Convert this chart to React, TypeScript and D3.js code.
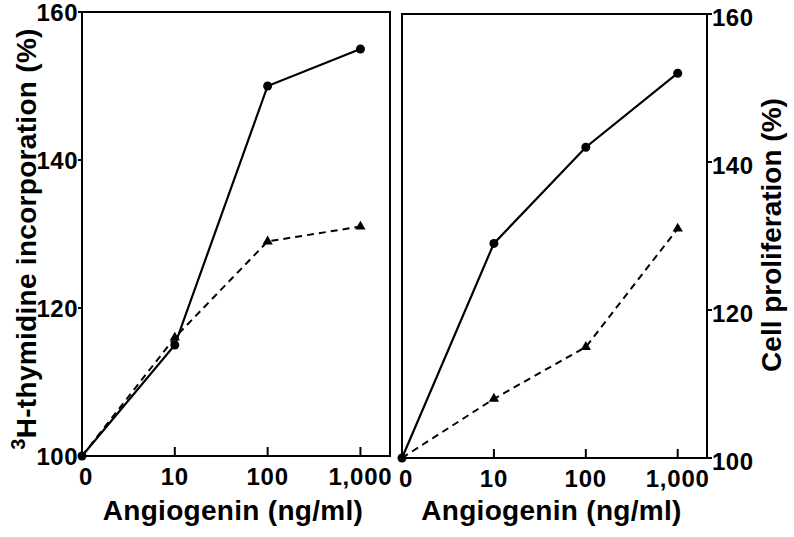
import React from "react";
import * as d3 from "d3";

const xCategories = ["0", "10", "100", "1,000"];
const yTickValues = [100, 120, 140, 160];
const leftCircles = [100, 115, 150, 155];
const leftTriangles = [100, 116, 129, 131];
const rightCircles = [100, 129, 142, 152];
const rightTriangles = [100, 108, 115, 131];

const FONT = "'Liberation Sans', Arial, Helvetica, sans-serif";

type PanelProps = {
  x0: number;
  x1: number;
  y0: number;
  y1: number;
  side: "left" | "right";
  circles: number[];
  triangles: number[];
};

function Panel({ x0, x1, y0, y1, side, circles, triangles }: PanelProps) {
  const x = d3.scaleLinear().domain([0, 3]).range([x0, x0 + (x1 - x0) * 0.904]);
  const y = d3.scaleLinear().domain([100, 160]).range([y1, y0]);
  const line = d3
    .line<number>()
    .x((_, i) => x(i))
    .y((d) => y(d));
  const tri = d3.symbol().type(d3.symbolTriangle).size(46)();
  const tickLabelDy = side === "left" ? 9 : 12;
  return (
    <g>
      <rect x={x0} y={y0} width={x1 - x0} height={y1 - y0} fill="none" stroke="#000" strokeWidth={2} />
      {yTickValues.map((v) => (
        <g key={v}>
          <line
            x1={side === "left" ? x0 : x1}
            x2={side === "left" ? x0 - 4 : x1 + 5}
            y1={y(v)}
            y2={y(v)}
            stroke="#000"
            strokeWidth={2}
          />
          <text
            x={side === "left" ? x0 - 4 : x1 + 5}
            y={y(v) + tickLabelDy}
            textAnchor={side === "left" ? "end" : "start"}
            fontFamily={FONT}
            fontWeight="bold"
            fontSize={24}
            letterSpacing={0.5}
          >
            {v}
          </text>
        </g>
      ))}
      {xCategories.map((c, i) => (
        <g key={c}>
          {i > 0 && (
            <line x1={x(i)} x2={x(i)} y1={y1} y2={y1 - 9} stroke="#000" strokeWidth={2} />
          )}
          <text
            x={x(i) + (i === 0 ? 4 : 0)}
            y={y1 + 29}
            textAnchor="middle"
            fontFamily={FONT}
            fontWeight="bold"
            fontSize={24}
            letterSpacing={0.8}
          >
            {c}
          </text>
        </g>
      ))}
      <text
        x={(x0 + x1) / 2 - 3}
        y={520}
        textAnchor="middle"
        fontFamily={FONT}
        fontWeight="bold"
        fontSize={28}
        letterSpacing={0.3}
      >
        Angiogenin (ng/ml)
      </text>
      <path d={line(triangles) || ""} fill="none" stroke="#000" strokeWidth={2} strokeDasharray="7,5" />
      <path d={line(circles) || ""} fill="none" stroke="#000" strokeWidth={2.2} />
      {circles.map((v, i) => (
        <circle key={"c" + i} cx={x(i)} cy={y(v)} r={4.5} fill="#000" />
      ))}
      {triangles.map((v, i) =>
        i === 0 ? null : (
          <path key={"t" + i} d={tri || ""} transform={`translate(${x(i)},${y(v)})`} fill="#000" />
        )
      )}
    </g>
  );
}

export default function App() {
  return (
    <svg
      width={794}
      height={537}
      style={{ position: "absolute", left: 0, top: 0, background: "#fff" }}
    >
      <rect x={0} y={0} width={794} height={537} fill="#fff" />
      <Panel x0={82} x1={390} y0={12} y1={456} side="left" circles={leftCircles} triangles={leftTriangles} />
      <Panel x0={402} x1={707} y0={14} y1={458} side="right" circles={rightCircles} triangles={rightTriangles} />
      <g transform="translate(36,239) rotate(-90)">
        <text
          textAnchor="middle"
          fontFamily={FONT}
          fontWeight="bold"
          fontSize={28}
          letterSpacing={0.3}
        >
          <tspan fontSize={20} baselineShift="super">3</tspan>
          <tspan>H-thymidine incorporation (%)</tspan>
        </text>
      </g>
      <text
        transform="translate(781,235) rotate(-90)"
        textAnchor="middle"
        fontFamily={FONT}
        fontWeight="bold"
        fontSize={28}
      >
        Cell proliferation (%)
      </text>
    </svg>
  );
}
